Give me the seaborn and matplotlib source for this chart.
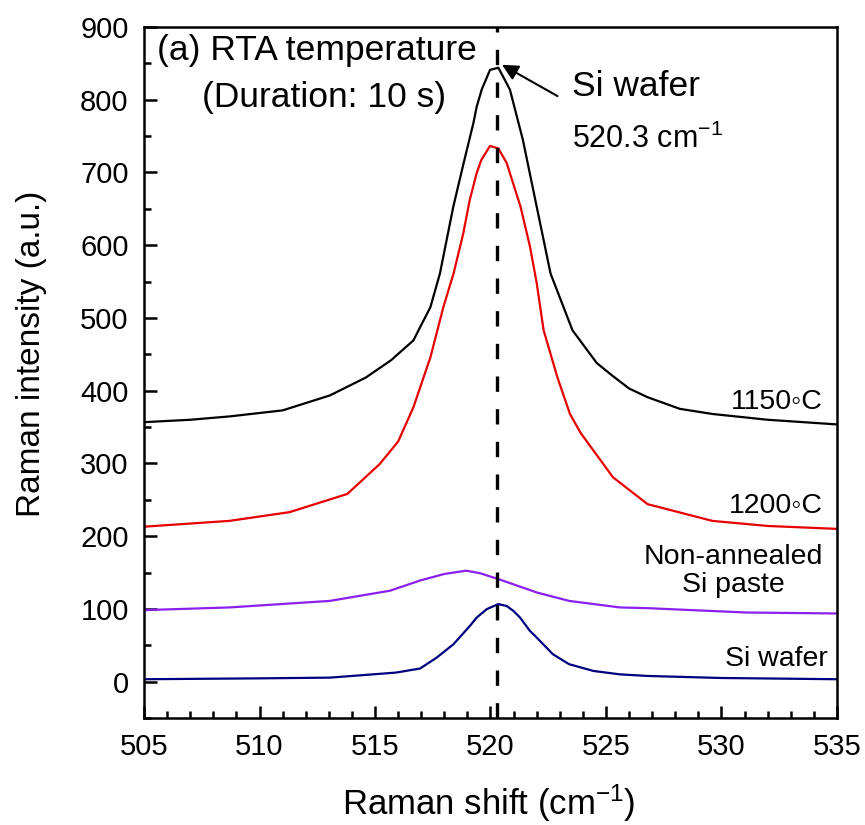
import matplotlib
matplotlib.use("Agg")
import matplotlib.pyplot as plt
import seaborn as sns
import pandas as pd
from matplotlib.ticker import MultipleLocator

# Raman spectra (shift in cm^-1, intensity in a.u.)
shift_1150 = [505.0, 507.0, 508.7, 511.0, 513.05, 514.6, 515.7, 516.66, 517.4,
              517.81, 518.1, 518.39, 518.8, 519.26, 519.4, 519.62, 519.98, 520.34, 520.84,
              521.4, 522.0, 522.6, 523.55, 524.6, 525.3, 526.0, 526.8, 528.2, 529.6,
              532.0, 535.0]
int_1150 = [356.7, 360.0, 364.6, 372.9, 393.5, 418.0, 442.0, 469.0, 515.0,
            561.0, 607.0, 653.0, 708.0, 768.0, 790.0, 814.0, 841.0, 844.0, 814.0,
            745.0, 653.0, 561.0, 483.0, 438.0, 420.0, 403.0, 391.0, 375.0, 368.0,
            360.0, 353.6]

shift_1200 = [505.0, 508.7, 511.3, 513.8, 515.2, 516.0, 516.66, 517.4, 517.96, 518.4,
              518.82, 519.1, 519.4, 519.6, 519.98, 520.34, 520.7, 521.3, 521.71, 522.0,
              522.3, 522.9, 523.44, 523.9, 525.3, 526.8, 529.6, 532.0, 535.0]
int_1200 = [213.0, 221.0, 233.0, 258.0, 299.0, 330.0, 377.0, 446.0, 515.0, 561.0,
            616.0, 662.0, 699.0, 717.0, 736.5, 733.0, 713.0, 653.0, 598.0, 548.0,
            483.0, 418.0, 368.0, 342.0, 281.0, 244.0, 221.0, 214.0, 210.0]

shift_paste = [505.0, 508.7, 513.05, 515.65, 516.95, 518.0, 518.95, 519.55, 520.34, 522.0,
               523.4, 525.6, 526.8, 531.1, 535.0]
int_paste = [98.3, 102.0, 111.0, 125.0, 139.0, 148.0, 152.5, 149.0, 141.0, 122.6,
             111.0, 102.0, 101.0, 95.0, 93.7]

shift_wafer = [505.0, 510.0, 513.05, 515.9, 516.95, 517.67, 518.4, 519.11, 519.4, 519.84,
               520.34, 520.7, 521.0, 521.28, 521.7, 522.0, 522.7, 523.4, 524.45, 525.6,
               526.8, 530.0, 535.0]
int_wafer = [3.3, 4.5, 5.5, 12.4, 18.0, 33.0, 51.5, 76.7, 88.0, 99.7,
             106.6, 104.0, 97.0, 88.0, 70.0, 60.6, 37.7, 24.0, 14.7, 10.0,
             7.8, 5.0, 3.3]

series_names = ["1150", "1200", "paste", "wafer"]
series_colors = ["#000000", "#e60000", "#8a1ff0", "#000080"]
peak_position = 520.3

frames = []
for name, xs, ys in zip(series_names,
                        [shift_1150, shift_1200, shift_paste, shift_wafer],
                        [int_1150, int_1200, int_paste, int_wafer]):
    frames.append(pd.DataFrame({"shift": xs, "intensity": ys, "sample": name}))
data = pd.concat(frames, ignore_index=True)

sns.set_theme(style="ticks")
plt.rcParams["font.family"] = ["Liberation Sans", "DejaVu Sans"]
plt.rcParams["mathtext.fontset"] = "custom"
plt.rcParams["mathtext.rm"] = "Liberation Sans"
plt.rcParams["mathtext.it"] = "Liberation Sans:italic"
plt.rcParams["mathtext.bf"] = "Liberation Sans:bold"
plt.rcParams["text.color"] = "black"
plt.rcParams["axes.labelcolor"] = "black"

fig = plt.figure(figsize=(8.65, 8.25), dpi=100)
ax = fig.add_axes([0.1665, 0.1297, 0.8011, 0.8376])

sns.lineplot(data=data, x="shift", y="intensity", hue="sample",
             palette=dict(zip(series_names, series_colors)),
             estimator=None, sort=True, legend=False, linewidth=1.6, ax=ax)

ax.axvline(peak_position, color="black", linewidth=2.4, linestyle=(0, (4.6, 5.2)))

ax.set_xlim(505, 535)
ax.set_ylim(-50, 900)
ax.xaxis.set_major_locator(MultipleLocator(5))
ax.xaxis.set_minor_locator(MultipleLocator(1))
ax.yaxis.set_major_locator(MultipleLocator(100))
ax.yaxis.set_minor_locator(MultipleLocator(50))

ax.tick_params(which="both", direction="in", top=False, right=False,
               labelsize=21, colors="black", width=1.8)
ax.tick_params(which="major", length=9, pad=11)
ax.tick_params(which="minor", length=5)
for side in ax.spines.values():
    side.set_linewidth(1.8)
    side.set_color("black")

ax.set_xlabel("Raman shift (cm$^{-1}$)", fontsize=25)
ax.set_ylabel("Raman intensity (a.u.)", fontsize=24)
ax.xaxis.set_label_coords(0.497, -0.094)
ax.yaxis.set_label_coords(-0.140, 0.527)

ax.text(505.55, 868, "(a) RTA temperature", fontsize=25.5, va="center", ha="left")
ax.text(507.5, 803, "(Duration: 10 s)", fontsize=25.5, va="center", ha="left")

ax.annotate("", xy=(520.5, 848), xytext=(522.9, 805),
            arrowprops=dict(arrowstyle="-|>", color="black", lw=1.5,
                            mutation_scale=24, shrinkA=0, shrinkB=0))
ax.text(523.55, 818, "Si wafer", fontsize=25.5, va="center", ha="left")
ax.text(523.55, 746, "520.3 cm$^{-1}$", fontsize=22, va="center", ha="left")

ax.text(534.4, 385, "1150\u25e6C", fontsize=20.5, va="center", ha="right")
ax.text(534.4, 242, "1200\u25e6C", fontsize=20.5, va="center", ha="right")
ax.text(534.4, 152, "Non-annealed\nSi paste", fontsize=20.5, va="center", ha="right",
        multialignment="center", linespacing=1.1)
ax.text(534.6, 31, "Si wafer", fontsize=20.5, va="center", ha="right")

fig.savefig("out.png", dpi=100)
